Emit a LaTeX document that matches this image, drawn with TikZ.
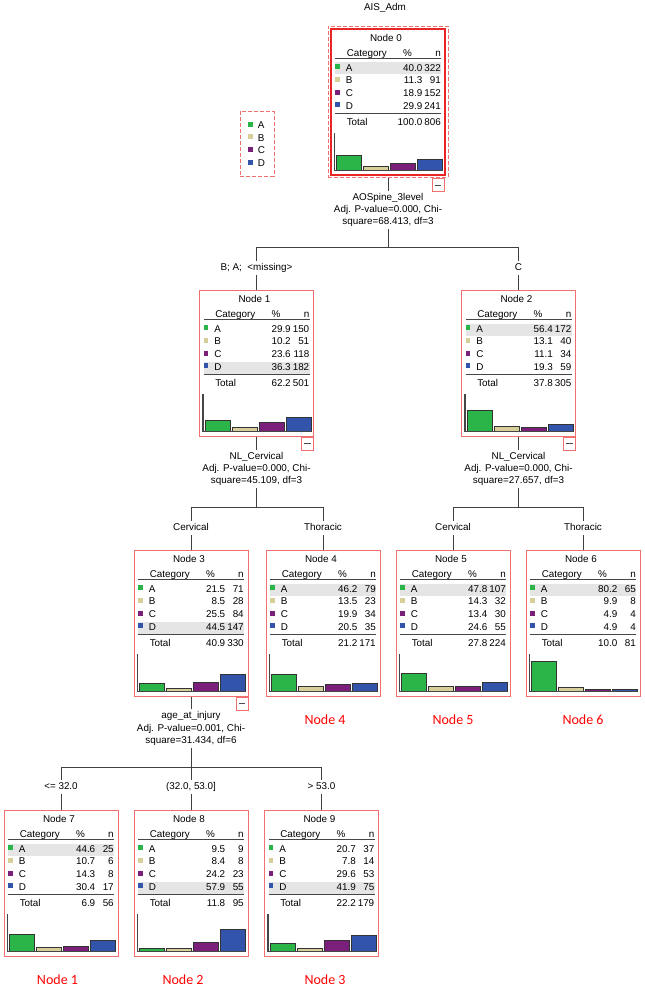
\documentclass[tikz,border=0pt]{standalone}
\usepackage{fontspec}
\setmainfont{Liberation Sans}
\newfontfamily\tagfont{Carlito}
\usetikzlibrary{positioning, calc}
\definecolor{catA}{RGB}{43,181,72}
\definecolor{catB}{RGB}{214,207,153}
\definecolor{catC}{RGB}{122,32,122}
\definecolor{catD}{RGB}{50,84,170}
\definecolor{boxred}{RGB}{240,112,112}
\definecolor{hotred}{RGB}{232,36,36}
\definecolor{rowgray}{RGB}{229,229,229}
\definecolor{rulegray}{RGB}{70,70,70}
\tikzset{
  txt/.style={font=\fontsize{7.4}{8.9}\selectfont, inner sep=0pt,
              text height=5.3pt, text depth=1.4pt},
  tbox/.style={draw=boxred, line width=0.75pt, minimum width=85.5pt,
               minimum height=109.5pt, inner sep=0pt},
  rootbox/.style={draw=hotred, line width=1.6pt, minimum width=85.5pt,
                  minimum height=109.5pt, inner sep=0pt},
  dashbox/.style={draw=boxred, line width=0.75pt, dash pattern=on 3pt off 1.5pt,
                  inner sep=0pt},
  colbtn/.style={draw=boxred, fill=white, line width=0.75pt,
                 minimum width=9pt, minimum height=9.75pt, inner sep=0pt},
  splitlbl/.style={align=center, font=\fontsize{7.4}{9.3}\selectfont, inner sep=1.5pt},
  edgelbl/.style={txt, inner sep=2pt},
  conn/.style={draw=black!75, line width=0.75pt},
  ruleln/.style={draw=rulegray, line width=1.1pt},
  barln/.style={draw=black!80, line width=0.6pt},
  tag/.style={font=\tagfont\fontsize{10.5}{12}\selectfont, text=red, inner sep=0pt},
}
% #1 number, #2 left, #3 top, #4 highlighted row, #5 rows, #6 total %, #7 total n
\newcommand{\tnode}[7]{%
  \begin{scope}[shift={(#2,#3)}]
    \node[tbox] (n#1) at (57,73) {};
    \fill[rowgray] (4,{33.5+12.8*(#4-1)}) rectangle (110,{45.5+12.8*(#4-1)});
    \node[txt] (n#1t) at (55,9.5) {Node #1};
    \node[txt, anchor=west] (n#1h) at (15.5,24.5) {Category};
    \node[txt] (n#1p) at (76.5,24.5) {\%};
    \node[txt, anchor=east] (n#1n) at (110,24.5) {n};
    \draw[ruleln] (4,29.5) -- (110,29.5);
    \foreach \lbl/\pct/\cnt [count=\i] in {#5} {
      \pgfmathsetmacro{\ry}{39.5+12.8*(\i-1)}
      \fill[cat\lbl] (4,\ry-4.5) rectangle (8.5,\ry+0.5);
      \node[txt, anchor=west] (n#1c\i) at (14.5,\ry) {\lbl};
      \node[txt, anchor=east] (n#1v\i) at (91.5,\ry) {\pct};
      \node[txt, anchor=east] (n#1k\i) at (110,\ry) {\cnt};
      \draw[barln, fill=cat\lbl] ({5.5+27*(\i-1)},141.5) rectangle ++(25,{-0.375*\pct});
    }
    \draw[ruleln] (4,84.5) -- (110,84.5);
    \node[txt, anchor=west] (n#1s) at (15.5,94) {Total};
    \node[txt, anchor=east] (n#1sv) at (91.5,94) {#6};
    \node[txt, anchor=east] (n#1sk) at (110,94) {#7};
    % bar chart axes
    \draw[rulegray, line width=0.8pt] (3.5,104) -- (3.5,141.5) -- (112,141.5);
  \end{scope}}

\begin{document}
\begin{tikzpicture}[x=0.75pt, y=-0.75pt]
  \useasboundingbox (0,0) rectangle (644,991);
  \node[txt] (ttl) at (385,8) {AIS\_Adm};

  % legend
  \node[dashbox, minimum width=25.5pt, minimum height=48.3pt] (lg) at (257,144) {};
  \foreach \lbl [count=\i] in {A,B,C,D} {
    \fill[cat\lbl] (248,{121.7+12.8*(\i-1)}) rectangle +(5,5);
    \node[txt, anchor=west] (lg\lbl) at (257.5,{125.7+12.8*(\i-1)}) {\lbl};
  }

  % tree nodes
  \tnode{0}{331}{29}{1}{A/40.0/322, B/11.3/91, C/18.9/152, D/29.9/241}{100.0}{806}
  \node[rootbox] (n0r) at (n0) {};
  \node[dashbox, minimum width=90pt, minimum height=113.25pt] (n0o) at (n0) {};
  \tnode{1}{199.5}{290}{4}{A/29.9/150, B/10.2/51, C/23.6/118, D/36.3/182}{62.2}{501}
  \tnode{2}{461.5}{290}{1}{A/56.4/172, B/13.1/40, C/11.1/34, D/19.3/59}{37.8}{305}
  \tnode{3}{134}{550}{4}{A/21.5/71, B/8.5/28, C/25.5/84, D/44.5/147}{40.9}{330}
  \tnode{4}{266}{550}{1}{A/46.2/79, B/13.5/23, C/19.9/34, D/20.5/35}{21.2}{171}
  \tnode{5}{396}{550}{1}{A/47.8/107, B/14.3/32, C/13.4/30, D/24.6/55}{27.8}{224}
  \tnode{6}{526}{550}{1}{A/80.2/65, B/9.9/8, C/4.9/4, D/4.9/4}{10.0}{81}
  \tnode{7}{4}{810}{1}{A/44.6/25, B/10.7/6, C/14.3/8, D/30.4/17}{6.9}{56}
  \tnode{8}{134}{810}{4}{A/9.5/9, B/8.4/8, C/24.2/23, D/57.9/55}{11.8}{95}
  \tnode{9}{264.5}{810}{4}{A/20.7/37, B/7.8/14, C/29.6/53, D/41.9/75}{22.2}{179}

  % collapse buttons
  \node[colbtn, anchor=north east] (b0) at ([xshift=-3pt]n0o.south east) {};
  \foreach \b in {1,2,3}
    \node[colbtn, anchor=north east] (b\b) at (n\b.south east) {};
  \foreach \b in {0,1,2,3}
    \draw[black!70, line width=0.6pt] ([xshift=-2.3pt]b\b.center) -- ([xshift=2.3pt]b\b.center);

  % split labels
  \node[splitlbl] (s0) at (388,210) {AOSpine\_3level\\Adj. P-value=0.000, Chi-\\square=68.413, df=3};
  \node[splitlbl] (s1) at (256.5,469) {NL\_Cervical\\Adj. P-value=0.000, Chi-\\square=45.109, df=3};
  \node[splitlbl] (s2) at (518.5,469) {NL\_Cervical\\Adj. P-value=0.000, Chi-\\square=27.657, df=3};
  \node[splitlbl] (s3) at (191,728.5) {age\_at\_injury\\Adj. P-value=0.001, Chi-\\square=31.434, df=6};
  \coordinate (h0) at (388,247);
  \coordinate (h1) at (256.5,507.3);
  \coordinate (h2) at (518.5,507.3);
  \coordinate (h3) at (191,767.5);

  % branch labels
  \node[edgelbl] (e1) at (256.5,268) {B; A; \ <missing>};
  \node[edgelbl] (e2) at (518.5,268) {C};
  \node[edgelbl] (e3) at (191,528) {Cervical};
  \node[edgelbl] (e4) at (323,528) {Thoracic};
  \node[edgelbl] (e5) at (453,528) {Cervical};
  \node[edgelbl] (e6) at (583,528) {Thoracic};
  \node[edgelbl] (e7) at (61,787) {<= 32.0};
  \node[edgelbl] (e8) at (191,787) {(32.0, 53.0]};
  \node[edgelbl] (e9) at (321.5,787) {> 53.0};

  % connectors
  \draw[conn] (n0o) -- (s0) (s0) -- (h0);
  \foreach \p in {1,2,3}
    \draw[conn] (n\p) -- (s\p) (s\p) -- (h\p);
  \foreach \p/\c in {0/1,0/2,1/3,1/4,2/5,2/6,3/7,3/8,3/9}
    \draw[conn] (h\p) -| (e\c) (e\c) -- (n\c);

  % red tags
  \node[tag] (r4) at (325,720) {Node 4};
  \node[tag] (r5) at (453,720) {Node 5};
  \node[tag] (r6) at (583,720) {Node 6};
  \node[tag] (r1) at (57.5,980) {Node 1};
  \node[tag] (r2) at (183,980) {Node 2};
  \node[tag] (r3) at (325,980) {Node 3};
\end{tikzpicture}
\end{document}
